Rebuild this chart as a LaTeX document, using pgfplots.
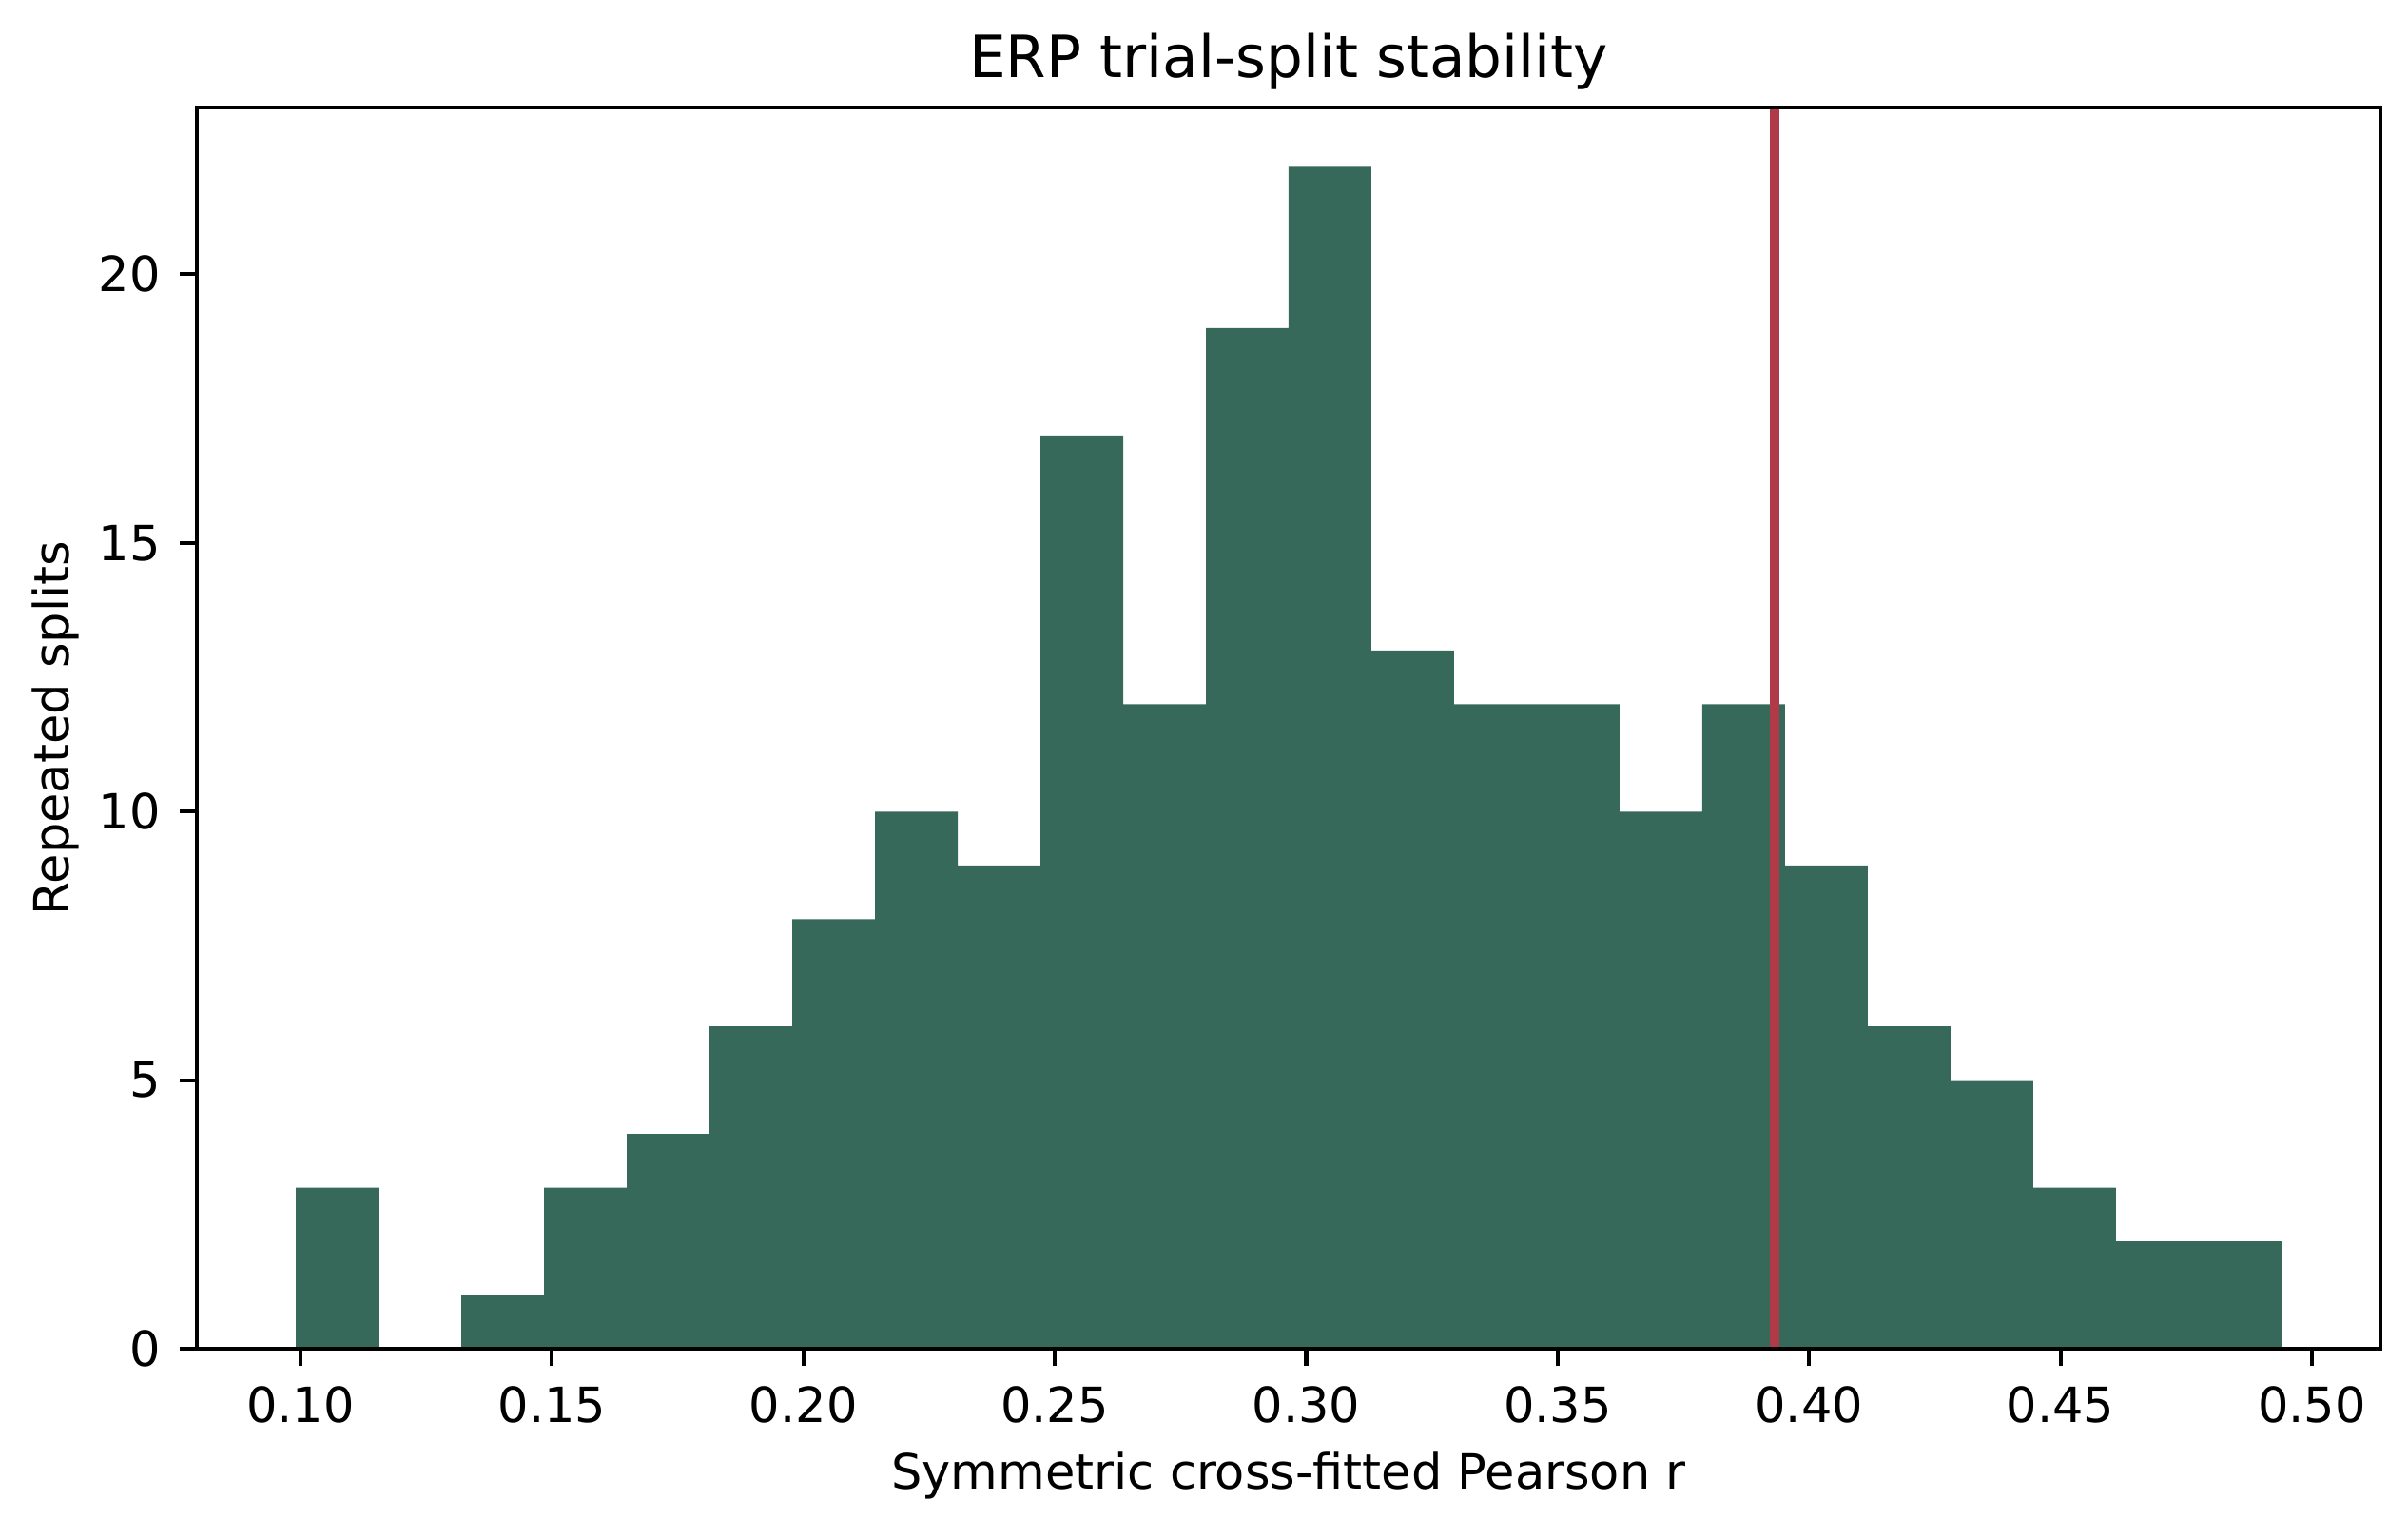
\documentclass[border=0pt]{standalone}
\usepackage{pgfplots}
\pgfplotsset{compat=1.18}
\usepackage{fontspec}
\setmainfont{DejaVu Sans}
\definecolor{barcol}{HTML}{36695A}
\definecolor{linecol}{HTML}{B03A48}
\begin{document}
\begin{tikzpicture}
\begin{axis}[
  scale only axis,
  width=450.2pt, height=255.9pt,
  xmin=0.0794, xmax=0.5136, ymin=0, ymax=23.1,
  axis on top,
  axis line style={line width=0.8pt, black},
  tick align=outside,
  major tick length=3.5pt,
  every tick/.style={black, line width=0.8pt},
  xtick={0.10,0.15,0.20,0.25,0.30,0.35,0.40,0.45,0.50},
  xticklabels={0.10,0.15,0.20,0.25,0.30,0.35,0.40,0.45,0.50},
  ytick={0,5,10,15,20},
  yticklabels={0,5,10,15,20},
  xtick pos=bottom, ytick pos=left,
  font=\fontsize{10pt}{12pt}\selectfont,
  xticklabel style={anchor=base, inner sep=0pt, yshift=-11.6pt},
  yticklabel style={anchor=east, inner sep=0pt, xshift=-3.8pt},
  xlabel={Symmetric cross-fitted Pearson r},
  ylabel={Repeated splits},
  xlabel style={at={(axis description cs:0.5,-0.11254)}, anchor=base, inner sep=0pt},
  ylabel style={at={(axis description cs:-0.05842,0.5)}, anchor=base, inner sep=0pt},
  title={ERP trial-split stability},
  title style={at={(axis description cs:0.5,1.00117)}, anchor=base, inner sep=0pt, font=\fontsize{12pt}{14pt}\selectfont},
]
\addplot[fill=barcol, draw=none, const plot] coordinates {
(0.0991,3) (0.11555,0) (0.1320,1) (0.14845,3) (0.1649,4) (0.18135,6)
(0.1978,8) (0.21425,10) (0.2307,9) (0.24715,17) (0.2636,12) (0.28005,19)
(0.2965,22) (0.31295,13) (0.3294,12) (0.34585,12) (0.3623,10) (0.37875,12)
(0.3952,9) (0.41165,6) (0.4281,5) (0.44455,3) (0.4610,2) (0.47745,2)
(0.4939,2)
} \closedcycle;
\addplot[linecol, line width=2pt] coordinates {(0.3931,0) (0.3931,23.1)};
\end{axis}
\pgfresetboundingbox
\path ([shift={(-40.6pt,-34.9pt)}]current axis.south west) rectangle ([shift={(5.7pt,22.2pt)}]current axis.north east);
\end{tikzpicture}
\end{document}
